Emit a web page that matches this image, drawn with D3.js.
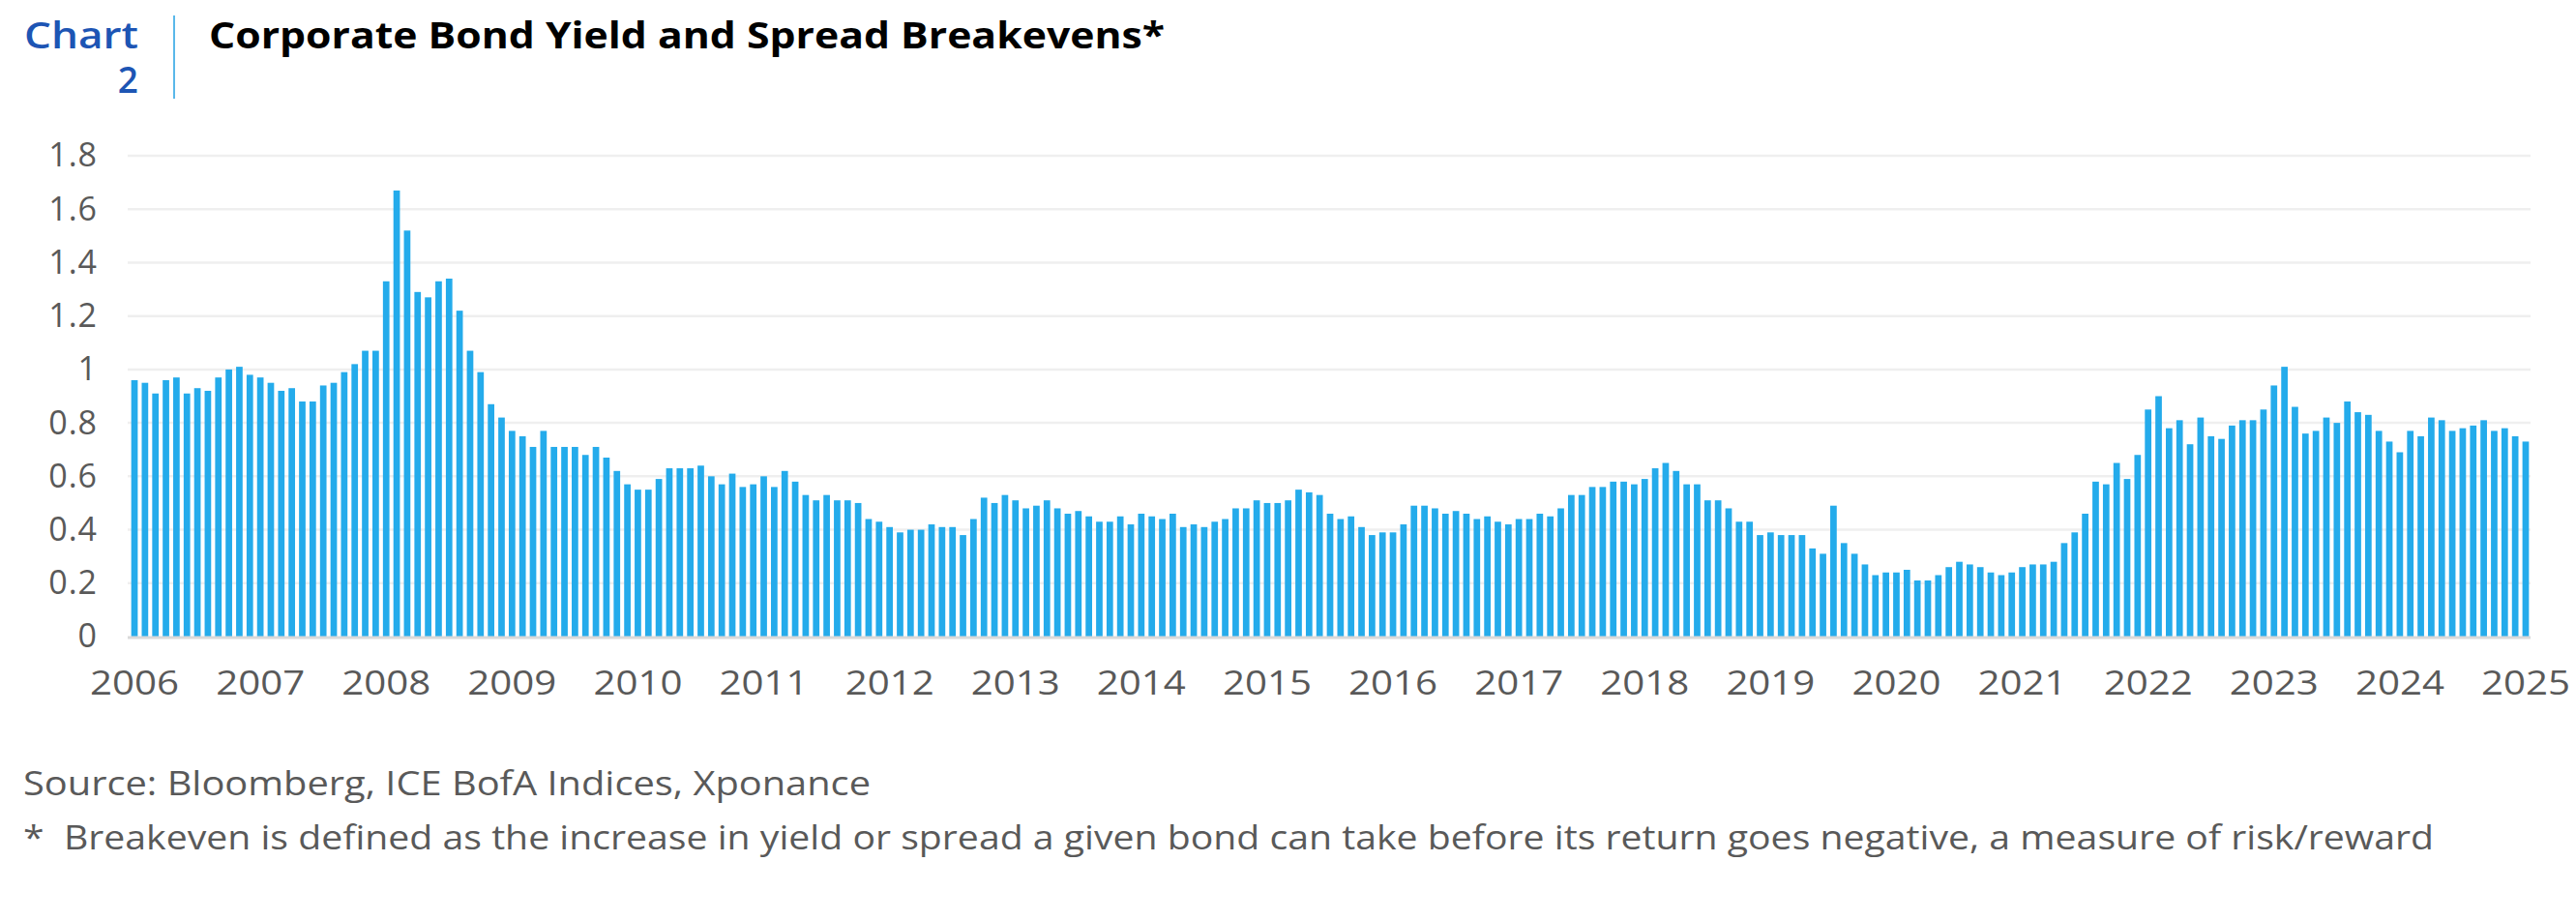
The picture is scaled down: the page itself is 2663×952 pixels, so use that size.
<!DOCTYPE html>
<html>
<head>
<meta charset="utf-8">
<script src="https://cdn.jsdelivr.net/npm/d3@7/dist/d3.min.js"></script>
<style>
  body { margin: 0; background: #fff; }
  text { font-family: "Open Sans", "Noto Sans", sans-serif; }
</style>
</head>
<body>
<div id="root"></div>
<script>
const SVG_WIDTH = 2663;
const SVG_HEIGHT = 952;

// monthly breakevens, Jan 2006 .. Jan 2025
const values = [
  0.96, 0.95, 0.91, 0.96, 0.97, 0.91, 0.93, 0.92, 0.97, 1.00, 1.01, 0.98,
  0.97, 0.95, 0.92, 0.93, 0.88, 0.88, 0.94, 0.95, 0.99, 1.02, 1.07, 1.07,
  1.33, 1.67, 1.52, 1.29, 1.27, 1.33, 1.34, 1.22, 1.07, 0.99, 0.87, 0.82,
  0.77, 0.75, 0.71, 0.77, 0.71, 0.71, 0.71, 0.68, 0.71, 0.67, 0.62, 0.57,
  0.55, 0.55, 0.59, 0.63, 0.63, 0.63, 0.64, 0.60, 0.57, 0.61, 0.56, 0.57,
  0.60, 0.56, 0.62, 0.58, 0.53, 0.51, 0.53, 0.51, 0.51, 0.50, 0.44, 0.43,
  0.41, 0.39, 0.40, 0.40, 0.42, 0.41, 0.41, 0.38, 0.44, 0.52, 0.50, 0.53,
  0.51, 0.48, 0.49, 0.51, 0.48, 0.46, 0.47, 0.45, 0.43, 0.43, 0.45, 0.42,
  0.46, 0.45, 0.44, 0.46, 0.41, 0.42, 0.41, 0.43, 0.44, 0.48, 0.48, 0.51,
  0.50, 0.50, 0.51, 0.55, 0.54, 0.53, 0.46, 0.44, 0.45, 0.41, 0.38, 0.39,
  0.39, 0.42, 0.49, 0.49, 0.48, 0.46, 0.47, 0.46, 0.44, 0.45, 0.43, 0.42,
  0.44, 0.44, 0.46, 0.45, 0.48, 0.53, 0.53, 0.56, 0.56, 0.58, 0.58, 0.57,
  0.59, 0.63, 0.65, 0.62, 0.57, 0.57, 0.51, 0.51, 0.48, 0.43, 0.43, 0.38,
  0.39, 0.38, 0.38, 0.38, 0.33, 0.31, 0.49, 0.35, 0.31, 0.27, 0.23, 0.24,
  0.24, 0.25, 0.21, 0.21, 0.23, 0.26, 0.28, 0.27, 0.26, 0.24, 0.23, 0.24,
  0.26, 0.27, 0.27, 0.28, 0.35, 0.39, 0.46, 0.58, 0.57, 0.65, 0.59, 0.68,
  0.85, 0.90, 0.78, 0.81, 0.72, 0.82, 0.75, 0.74, 0.79, 0.81, 0.81, 0.85,
  0.94, 1.01, 0.86, 0.76, 0.77, 0.82, 0.80, 0.88, 0.84, 0.83, 0.77, 0.73,
  0.69, 0.77, 0.75, 0.82, 0.81, 0.77, 0.78, 0.79, 0.81, 0.77, 0.78, 0.75,
  0.73
];
const yearLabels = ['2006', '2007', '2008', '2009', '2010', '2011', '2012', '2013', '2014', '2015',
  '2016', '2017', '2018', '2019', '2020', '2021', '2022', '2023', '2024', '2025'];
const yTicks = [0, 0.2, 0.4, 0.6, 0.8, 1, 1.2, 1.4, 1.6, 1.8];

const chartNo = ['Chart', '2'];
const title = 'Corporate Bond Yield and Spread Breakevens*';
const source = 'Source: Bloomberg, ICE BofA Indices, Xponance';
const note = '*  Breakeven is defined as the increase in yield or spread a given bond can take before its return goes negative, a measure of risk/reward';

const BAR = '#24abeb';
const GREY = '#595959';

function addSvg() {
  const svg = document.createElementNS('http://www.w3.org/2000/svg', 'svg');
  svg.id = 'svg';
  svg.setAttribute('width', SVG_WIDTH);
  svg.setAttribute('height', SVG_HEIGHT);
  return svg;
}

/**
 * header: chart number, divider, title
 */
function header() {
  const svg = d3.select('#svg');
  svg.append('text').attr('x', 143).attr('y', 50).attr('text-anchor', 'end')
    .attr('font-size', 37).attr('font-weight', 600).attr('fill', '#1d55b4')
    .attr('textLength', 118).attr('lengthAdjust', 'spacingAndGlyphs').text(chartNo[0]);
  svg.append('text').attr('x', 143).attr('y', 96).attr('text-anchor', 'end')
    .attr('font-size', 37).attr('font-weight', 600).attr('fill', '#1d55b4').text(chartNo[1]);
  svg.append('line').attr('x1', 180).attr('x2', 180).attr('y1', 16).attr('y2', 102)
    .attr('stroke', '#5ab8ea').attr('stroke-width', 2);
  svg.append('text').attr('x', 216).attr('y', 50)
    .attr('font-size', 38).attr('font-weight', 700).attr('fill', '#000')
    .attr('textLength', 988).attr('lengthAdjust', 'spacingAndGlyphs').text(title);
}

function fill() {
  const svg = d3.select('#svg');
  const idx = d3.range(values.length);
  const xScale = d3.scaleBand().domain(idx).range([133.6, 2616.4]).paddingInner(0.38).paddingOuter(0.19);
  const yScale = d3.scaleLinear().domain([0, 1.8]).range([658, 161]);

  // gridlines
  const grid = svg.append('g');
  grid.selectAll('line').data(yTicks.slice(1)).join('line')
    .attr('x1', 132).attr('x2', 2616)
    .attr('y1', (d) => yScale(d)).attr('y2', (d) => yScale(d))
    .attr('stroke', '#efefef').attr('stroke-width', 2.5);

  // bars
  svg.append('g').selectAll('rect').data(idx).join('rect')
    .attr('x', (i) => xScale(i))
    .attr('width', xScale.bandwidth())
    .attr('y', (i) => yScale(values[i]))
    .attr('height', (i) => yScale(0) - yScale(values[i]))
    .attr('fill', BAR);

  // baseline
  svg.append('line').attr('x1', 132).attr('x2', 2616)
    .attr('y1', yScale(0) + 1).attr('y2', yScale(0) + 1)
    .attr('stroke', '#d9d9d9').attr('stroke-width', 3);

  // y axis
  const yAxis = d3.axisLeft(yScale).tickValues(yTicks).tickSize(0).tickPadding(0)
    .tickFormat((d) => String(+d.toFixed(1)));
  const gy = svg.append('g').attr('transform', 'translate(101,0)').call(yAxis);
  gy.select('.domain').remove();
  gy.selectAll('text').attr('font-size', 34).attr('fill', GREY)
    .attr('font-family', '"Open Sans", sans-serif').attr('letter-spacing', 1);

  // x axis, a label every 12 months
  const tickIdx = yearLabels.map((_, k) => k * 12);
  const xAxis = d3.axisBottom(xScale).tickValues(tickIdx).tickSize(0).tickPadding(0)
    .tickFormat((d) => yearLabels[d / 12]);
  const gx = svg.append('g').attr('transform', 'translate(0,693)').call(xAxis);
  gx.select('.domain').remove();
  gx.selectAll('text').attr('font-size', 35).attr('fill', GREY).attr('dy', '0.71em')
    .attr('font-family', '"Open Sans", sans-serif')
    .attr('textLength', 92).attr('lengthAdjust', 'spacingAndGlyphs');
}

function footer() {
  const svg = d3.select('#svg');
  svg.append('text').attr('x', 24).attr('y', 822).attr('font-size', 34).attr('fill', GREY)
    .attr('textLength', 876).attr('lengthAdjust', 'spacingAndGlyphs').text(source);
  svg.append('text').attr('x', 24).attr('y', 878).attr('font-size', 34).attr('fill', GREY)
    .attr('xml:space', 'preserve').style('white-space', 'pre')
    .attr('textLength', 2492).attr('lengthAdjust', 'spacingAndGlyphs').text(note);
}

function main() {
  header();
  fill();
  footer();
}

const root = document.getElementById('root');
root.appendChild(addSvg());
main();
</script>
</body>
</html>
